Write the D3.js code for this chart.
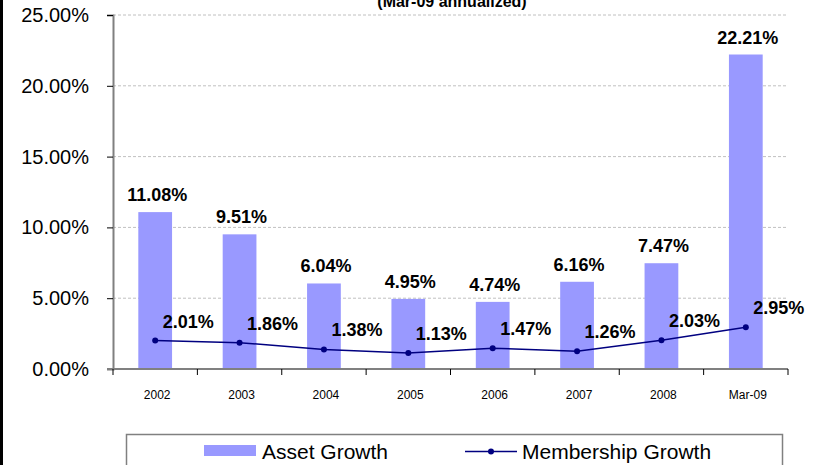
<!DOCTYPE html>
<html>
<head>
<meta charset="utf-8">
<script src="https://cdn.jsdelivr.net/npm/d3@7"></script>
<style>
  body { margin: 0; background: #fff; }
  svg { display: block; font-family: "Liberation Sans", Arial, sans-serif; }
</style>
</head>
<body>
<div id="chart"></div>
<script>
// chart data
const categories = ["2002", "2003", "2004", "2005", "2006", "2007", "2008", "Mar-09"];
const assetGrowth = [11.08, 9.51, 6.04, 4.95, 4.74, 6.16, 7.47, 22.21];
const membershipGrowth = [2.01, 1.86, 1.38, 1.13, 1.47, 1.26, 2.03, 2.95];
const yTicks = [0, 5, 10, 15, 20, 25];
const seriesNames = ["Asset Growth", "Membership Growth"];

function drawChart() {
  const width = 824, height = 465;
  const plot = { left: 113, right: 788, top: 15, bottom: 369 };

  const svg = d3.select("#chart").append("svg")
      .attr("width", width)
      .attr("height", height);

  // left frame edge
  svg.append("rect")
      .attr("x", 0).attr("y", 0)
      .attr("width", 3).attr("height", height)
      .attr("fill", "#000");

  // title, cut off at the top like the source
  svg.append("text")
      .attr("x", 452).attr("y", 7)
      .attr("text-anchor", "middle")
      .attr("font-size", 16)
      .attr("font-weight", "bold")
      .text("(Mar-09 annualized)");

  const x = d3.scaleBand()
      .domain(categories)
      .range([plot.left, plot.right])
      .paddingInner(0.6)
      .paddingOuter(0.3);

  const y = d3.scaleLinear()
      .domain([0, 25])
      .range([plot.bottom, plot.top]);

  // gridlines
  svg.append("g")
      .selectAll("line")
      .data(yTicks.filter(d => d > 0))
      .enter().append("line")
      .attr("x1", plot.left).attr("x2", plot.right)
      .attr("y1", d => y(d)).attr("y2", d => y(d))
      .attr("stroke", "#c0c0c0")
      .attr("stroke-dasharray", "3,2")
      .attr("stroke-width", 1);

  // bars
  svg.append("g")
      .selectAll("rect")
      .data(assetGrowth)
      .enter().append("rect")
      .attr("x", (d, i) => x(categories[i]))
      .attr("y", d => y(d))
      .attr("width", x.bandwidth())
      .attr("height", d => y(0) - y(d))
      .attr("fill", "#9999FF");

  // y axis
  const yAxis = svg.append("g")
      .attr("transform", "translate(" + plot.left + ",0)")
      .call(d3.axisLeft(y).tickValues(yTicks).tickSize(6).tickPadding(18)
        .tickFormat(d => d.toFixed(2) + "%"));
  yAxis.select(".domain").attr("stroke", "#808080").attr("stroke-width", 2);
  yAxis.selectAll(".tick line").attr("stroke", "#000");
  yAxis.selectAll(".tick text")
      .attr("font-size", 20)
      .attr("font-family", "Liberation Sans, Arial, sans-serif")
      .attr("fill", "#000");

  // x axis, ticks sit between categories
  const xAxisG = svg.append("g");
  xAxisG.append("line")
      .attr("x1", plot.left - 6).attr("x2", plot.right)
      .attr("y1", y(0)).attr("y2", y(0))
      .attr("stroke", "#808080").attr("stroke-width", 2);
  xAxisG.selectAll(".xtick")
      .data(d3.range(categories.length + 1))
      .enter().append("line")
      .attr("class", "xtick")
      .attr("x1", i => plot.left + i * x.step())
      .attr("x2", i => plot.left + i * x.step())
      .attr("y1", y(0)).attr("y2", y(0) + 6)
      .attr("stroke", "#000");
  xAxisG.selectAll(".xlabel")
      .data(categories)
      .enter().append("text")
      .attr("class", "xlabel")
      .attr("x", d => x(d) + x.bandwidth() / 2 + 2)
      .attr("y", 399)
      .attr("text-anchor", "middle")
      .attr("font-size", 12)
      .text(d => d);

  // membership line
  const line = d3.line()
      .x((d, i) => x(categories[i]) + x.bandwidth() / 2)
      .y(d => y(d));

  svg.append("path")
      .datum(membershipGrowth)
      .attr("d", line)
      .attr("fill", "none")
      .attr("stroke", "#000080")
      .attr("stroke-width", 1.5);

  svg.append("g")
      .selectAll("circle")
      .data(membershipGrowth)
      .enter().append("circle")
      .attr("cx", (d, i) => x(categories[i]) + x.bandwidth() / 2)
      .attr("cy", d => y(d))
      .attr("r", 3)
      .attr("fill", "#000080");

  // bar value labels
  svg.append("g")
      .selectAll("text")
      .data(assetGrowth)
      .enter().append("text")
      .attr("x", (d, i) => x(categories[i]) + x.bandwidth() / 2 + 2)
      .attr("y", d => y(d) - 11)
      .attr("text-anchor", "middle")
      .attr("font-size", 18)
      .attr("font-weight", "bold")
      .text(d => d.toFixed(2) + "%");

  // line value labels
  svg.append("g")
      .selectAll("text")
      .data(membershipGrowth)
      .enter().append("text")
      .attr("x", (d, i) => x(categories[i]) + x.bandwidth() / 2 + 33)
      .attr("y", d => y(d) - 13)
      .attr("text-anchor", "middle")
      .attr("font-size", 18)
      .attr("font-weight", "bold")
      .text(d => d.toFixed(2) + "%");

  // legend
  const legend = svg.append("g");
  legend.append("rect")
      .attr("x", 126.5).attr("y", 434.5)
      .attr("width", 656).attr("height", 40)
      .attr("fill", "#fff")
      .attr("stroke", "#808080")
      .attr("stroke-width", 1.5);
  legend.append("rect")
      .attr("x", 204).attr("y", 445)
      .attr("width", 52).attr("height", 11)
      .attr("fill", "#9999FF");
  legend.append("text")
      .attr("x", 262).attr("y", 459)
      .attr("font-size", 21)
      .text(seriesNames[0]);
  legend.append("line")
      .attr("x1", 465).attr("x2", 517)
      .attr("y1", 451.5).attr("y2", 451.5)
      .attr("stroke", "#000080").attr("stroke-width", 1.5);
  legend.append("circle")
      .attr("cx", 491).attr("cy", 451.5).attr("r", 3)
      .attr("fill", "#000080");
  legend.append("text")
      .attr("x", 522).attr("y", 459)
      .attr("font-size", 21)
      .text(seriesNames[1]);
}

drawChart();
</script>
</body>
</html>
